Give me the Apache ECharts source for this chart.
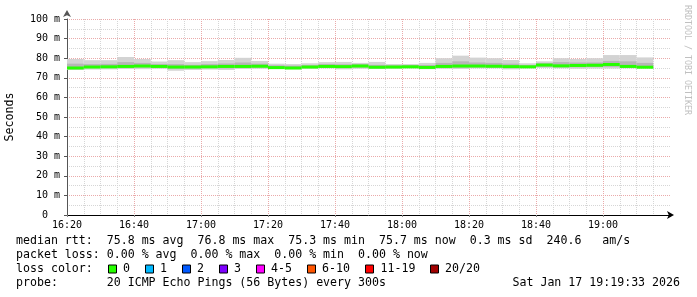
<!DOCTYPE html>
<html>
<head>
<meta charset="utf-8">
<script src="https://cdn.jsdelivr.net/npm/echarts@6/dist/echarts.min.js"></script>
<style>html,body{margin:0;padding:0;background:#fff}#c{width:697px;height:297px}</style>
</head>
<body>
<div id="c"></div>
<script>
// 5-minute step start times (HH:MM)
const stepTimes = ['16:20','16:25','16:30','16:35','16:40','16:45','16:50','16:55','17:00','17:05','17:10','17:15','17:20','17:25','17:30','17:35','17:40','17:45','17:50','17:55','18:00','18:05','18:10','18:15','18:20','18:25','18:30','18:35','18:40','18:45','18:50','18:55','19:00','19:05','19:10'];
// median rtt (ms)
const medianMs = [75.0,75.5,75.6,75.8,76.0,75.8,75.5,75.5,75.6,75.8,75.8,75.9,75.2,75.0,75.5,75.8,75.7,76.0,75.4,75.5,75.6,75.3,75.8,76.0,76.0,75.9,75.7,75.6,76.5,76.1,76.3,76.4,76.8,75.8,75.4];
// smoke outer band (ms)
const smokeHi = [79.6,79.0,79.0,80.6,79.6,78.3,79.0,78.0,78.5,79.1,80.2,78.6,77.2,77.0,77.4,78.0,78.1,77.6,78.1,77.0,77.0,77.6,80.0,81.3,80.3,80.0,79.1,77.4,78.4,80.0,79.6,80.0,81.6,81.6,80.4];
const smokeLo = [74.0,74.2,74.3,74.5,74.4,74.6,73.6,74.0,74.2,74.0,74.5,74.6,74.6,74.4,74.6,74.8,74.3,74.6,74.5,74.6,74.8,74.4,74.6,74.5,74.8,74.8,74.3,74.8,75.0,74.8,74.6,74.7,74.7,74.8,74.9];
// smoke inner band (ms)
const smokeQ3 = [77.2,77.0,77.1,78.0,77.6,77.0,77.0,76.6,77.0,77.3,77.8,77.2,76.4,76.2,76.4,77.0,76.9,77.0,76.6,76.4,76.5,76.5,77.6,78.4,77.8,77.6,77.2,76.5,77.5,78.0,77.8,77.8,78.6,78.4,77.6];
const smokeQ1 = [74.6,75.0,75.0,75.2,75.3,75.2,74.6,74.8,75.0,74.8,75.1,75.3,74.9,74.7,75.0,75.3,75.0,75.3,74.9,75.0,75.2,74.9,75.2,75.2,75.4,75.3,75.0,75.2,75.7,75.4,75.4,75.5,75.6,75.3,75.1];
const stepMinutes = 5;
const axisStart = '16:20';
const axisSpanMin = 180;
const yTicks = [0,10,20,30,40,50,60,70,80,90,100];
const lossLabels = ['0','1','2','3','4-5','6-10','11-19','20/20'];
const lossColors = ['#26ff00','#00b8ff','#0059ff','#7e00ff','#ff00ff','#ff5500','#ff0000','#a10000'];
const statsLines = [
  'median rtt:  75.8 ms avg  76.8 ms max  75.3 ms min  75.7 ms now  0.3 ms sd  240.6   am/s',
  'packet loss: 0.00 % avg  0.00 % max  0.00 % min  0.00 % now'
];
const probeText = 'probe:       20 ICMP Echo Pings (56 Bytes) every 300s';
const dateText = 'Sat Jan 17 19:19:33 2026';

function toMin(s){const [h,m]=s.split(':').map(Number);return h*60+m;}
const base = toMin(axisStart);
function fmt(v){const t=base+v;const h=Math.floor(t/60),m=t%60;return h+':'+String(m).padStart(2,'0');}

const starts = stepTimes.map(s=>toMin(s)-base);
const outerData = starts.map((s,i)=>[s,s+stepMinutes,smokeLo[i],smokeHi[i]]);
const innerData = starts.map((s,i)=>[s,s+stepMinutes,smokeQ1[i],smokeQ3[i]]);
const medData = starts.map((s,i)=>[s,s+stepMinutes,medianMs[i]]);

function bandRender(fill){
  return function(params, api){
    const p1 = api.coord([api.value(0), api.value(3)]);
    const p2 = api.coord([api.value(1), api.value(2)]);
    return {type:'rect', shape:{x:p1[0], y:p1[1], width:p2[0]-p1[0], height:p2[1]-p1[1]}, style:{fill:fill}};
  };
}
function medRender(params, api){
  const p1 = api.coord([api.value(0), api.value(2)]);
  const p2 = api.coord([api.value(1), api.value(2)]);
  return {type:'rect', shape:{x:p1[0], y:p1[1]-1.5, width:p2[0]-p1[0], height:3}, style:{fill:lossColors[0]}};
}

const mono = '"DejaVu Sans Mono", monospace';
const chart = echarts.init(document.getElementById('c'), null, {renderer:'canvas'});

const graphics = [];
statsLines.forEach((t,i)=>graphics.push({type:'text', x:16, y:241+i*14, style:{text:t, font:'11.6px '+mono, fill:'#000', verticalAlign:'middle'}}));
graphics.push({type:'text', x:16, y:269, style:{text:'loss color:', font:'11.6px '+mono, fill:'#000', verticalAlign:'middle'}});
const boxX = [108.5,145.5,182.5,219.5,256.5,307.5,365.5,430.5];
const labX = [123,160,197,234,271,322,380.5,445];
lossLabels.forEach((l,i)=>{
  graphics.push({type:'rect', shape:{x:boxX[i], y:265, width:8, height:8}, style:{fill:lossColors[i], stroke:'#000', lineWidth:1}});
  graphics.push({type:'text', x:labX[i], y:269, style:{text:l, font:'11.6px '+mono, fill:'#000', verticalAlign:'middle'}});
});
graphics.push({type:'text', x:16, y:283, style:{text:probeText, font:'11.6px '+mono, fill:'#000', verticalAlign:'middle'}});
graphics.push({type:'text', x:680, y:283, style:{text:dateText, font:'11.6px '+mono, fill:'#000', align:'right', verticalAlign:'middle'}});
graphics.push({type:'text', x:687, y:5, rotation:-Math.PI/2, style:{text:'RRDTOOL / TOBI OETIKER', font:'8.3px '+mono, fill:'#c0c0c0', align:'left', verticalAlign:'middle'}});

chart.setOption({
  animation:false,
  backgroundColor:'#ffffff',
  grid:{left:67, right:27, top:19, bottom:82, containLabel:false, outerBoundsMode:'none'},
  xAxis:{
    type:'value', min:0, max:axisSpanMin, interval:20,
    axisLine:{show:true, lineStyle:{color:'#000', width:1}, symbol:['none','arrow'], symbolSize:[6,7], symbolOffset:[0,4]},
    axisTick:{show:true, length:2, inside:false, lineStyle:{color:'#888'}},
    minorTick:{show:true, splitNumber:4, length:0},
    axisLabel:{show:true, margin:5, color:'#000', fontFamily:'DejaVu Sans Mono', fontSize:10, showMaxLabel:false, formatter:v=>fmt(v)},
    splitLine:{show:true, showMinLine:false, showMaxLine:false, lineStyle:{color:'#eaaaaa', type:[1,1], width:1}},
    minorSplitLine:{show:true, lineStyle:{color:'#d6d6d6', type:[1,1], width:1}}
  },
  yAxis:{
    type:'value', min:yTicks[0], max:yTicks[yTicks.length-1], interval:10,
    name:'Seconds', nameLocation:'middle', nameGap:51, nameRotate:90,
    nameTextStyle:{fontFamily:'DejaVu Sans Mono', fontSize:11.6, color:'#000'},
    axisLine:{show:true, lineStyle:{color:'#555', width:1}, symbol:['none','arrow'], symbolSize:[6,7], symbolOffset:[0,9]},
    axisTick:{show:true, length:3, lineStyle:{color:'#555'}},
    minorTick:{show:true, splitNumber:2, length:0},
    axisLabel:{margin:7, color:'#000', fontFamily:'DejaVu Sans Mono', fontSize:10, formatter:v=>v===0?'0  ':v+' m'},
    splitLine:{show:true, showMinLine:false, lineStyle:{color:'#eaaaaa', type:[1,1], width:1}},
    minorSplitLine:{show:true, lineStyle:{color:'#d6d6d6', type:[1,1], width:1}}
  },
  series:[
    {type:'custom', renderItem:bandRender('#d3d3d3'), data:outerData, encode:{x:[0,1], y:[2,3]}, silent:true},
    {type:'custom', renderItem:bandRender('#b6b6b6'), data:innerData, encode:{x:[0,1], y:[2,3]}, silent:true},
    {type:'custom', renderItem:medRender, data:medData, encode:{x:[0,1], y:2}, silent:true}
  ],
  graphic:graphics
});
</script>
</body>
</html>
